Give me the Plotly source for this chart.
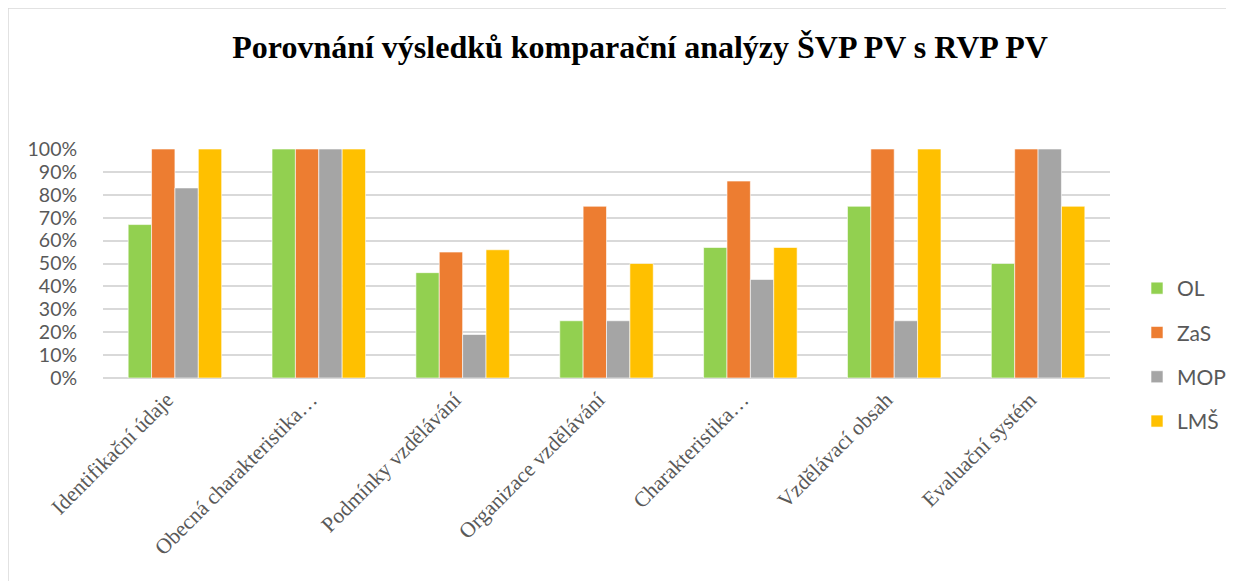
import plotly.graph_objects as go

categories = ["Identifikační údaje", "Obecná charakteristika…", "Podmínky vzdělávání",
              "Organizace vzdělávání", "Charakteristika…", "Vzdělávací obsah", "Evaluační systém"]
OL = [67, 100, 46, 25, 57, 75, 50]
ZaS = [100, 100, 55, 75, 86, 100, 100]
MOP = [83, 100, 19, 25, 43, 25, 100]
LMS = [100, 100, 56, 50, 57, 100, 75]
series_names = ["OL", "ZaS", "MOP", "LMŠ"]
series_values = [OL, ZaS, MOP, LMS]
colors = ["#92D050", "#ED7D31", "#A5A5A5", "#FFC000"]
y_ticks = [0, 10, 20, 30, 40, 50, 60, 70, 80, 90, 100]

fig = go.Figure()
for name, vals, col in zip(series_names, series_values, colors):
    fig.add_trace(go.Bar(
        x=categories, y=[v / 100 for v in vals], name=name, legendgroup=name,
        marker=dict(color=col, line=dict(color="rgba(255,255,255,0.6)", width=1)),
    ))

OFF = 8  # browser body margin
W, H = 1234 - OFF, 581 - OFF
L, T = 103 - OFF, 149 - OFF
R = W - (1110 - OFF)
B = H - (378 - OFF)
pw, ph = W - L - R, H - T - B

def px_x(x):
    return (x - OFF - L) / pw

def px_y(y):
    return (H - B - (y - OFF)) / ph

fig.update_layout(
    width=W, height=H,
    margin=dict(l=L, r=R, t=T, b=B, autoexpand=False),
    paper_bgcolor="white", plot_bgcolor="white",
    barmode="group", bargap=0.35, bargroupgap=0,
    title=dict(text="<b>Porovnání výsledků komparační analýzy ŠVP PV s RVP PV</b>",
               x=(640 - OFF) / W, xanchor="center", y=1 - (47 - OFF) / H, yanchor="middle",
               font=dict(family="Liberation Serif", size=32, color="black")),
    legend=dict(x=px_x(1137), xanchor="left", y=px_y(355), yanchor="middle",
                traceorder="grouped", tracegroupgap=14,
                font=dict(family="Lato", size=21, color="#595959"),
                itemwidth=30),
    showlegend=True,
    xaxis=dict(tickangle=-45, showgrid=False, showline=False, ticks="",
               automargin=False, ticklabelshift=-8, ticklabelstandoff=4,
               tickfont=dict(family="Liberation Serif", size=21.5, color="#595959")),
    yaxis=dict(range=[0, 1], tickvals=[t / 100 for t in y_ticks],
               ticktext=[f"{t}%" for t in y_ticks], automargin=False,
               showgrid=True, gridcolor="#d9d9d9", gridwidth=1.5,
               zeroline=True, zerolinecolor="#d9d9d9", zerolinewidth=1.5,
               ticks="outside", ticklen=21, tickcolor="rgba(0,0,0,0)",
               tickfont=dict(family="Lato", size=19.5, color="#595959")),
    shapes=[dict(type="rect", xref="paper", yref="paper",
                 x0=px_x(8), x1=px_x(1230), y0=px_y(600), y1=px_y(8),
                 line=dict(color="#d9d9d9", width=1.5), fillcolor="rgba(0,0,0,0)",
                 layer="below")],
)

fig.write_html("out.html")
